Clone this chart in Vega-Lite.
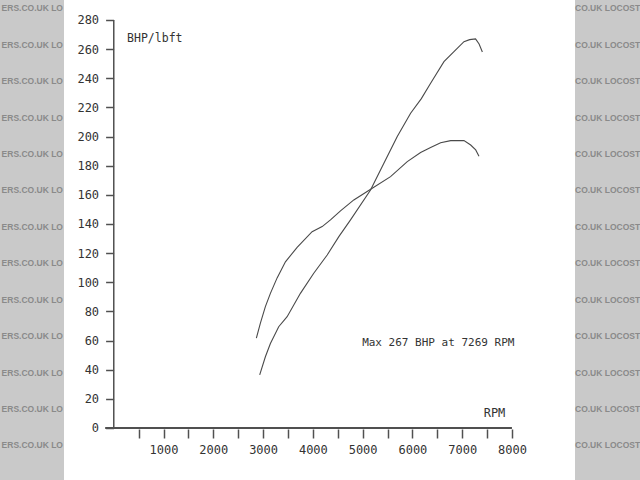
{
  "$schema": "https://vega.github.io/schema/vega-lite/v6.json",
  "width": 511,
  "height": 480,
  "autosize": {"type": "none"},
  "padding": {"left": 64, "right": 65, "top": 0, "bottom": 0},
  "background": "#c9c9c9",
  "config": {
    "view": {"fill": "#ffffff", "stroke": null},
    "font": "DejaVu Sans Mono",
    "axis": {"labelFont": "DejaVu Sans Mono", "titleFont": "DejaVu Sans Mono"}
  },
  "datasets": {
    "dyno": [
      {"series": "lbft", "rpm": 2865, "value": 61.6},
      {"series": "lbft", "rpm": 2946, "value": 72},
      {"series": "lbft", "rpm": 3046, "value": 83.3},
      {"series": "lbft", "rpm": 3147, "value": 92.4},
      {"series": "lbft", "rpm": 3282, "value": 103},
      {"series": "lbft", "rpm": 3449, "value": 114},
      {"series": "lbft", "rpm": 3684, "value": 124},
      {"series": "lbft", "rpm": 3985, "value": 134.7},
      {"series": "lbft", "rpm": 4187, "value": 138.2},
      {"series": "lbft", "rpm": 4354, "value": 142.8},
      {"series": "lbft", "rpm": 4555, "value": 149},
      {"series": "lbft", "rpm": 4823, "value": 156.5},
      {"series": "lbft", "rpm": 5193, "value": 164.5},
      {"series": "lbft", "rpm": 5561, "value": 172.5},
      {"series": "lbft", "rpm": 5897, "value": 182.8},
      {"series": "lbft", "rpm": 6165, "value": 189},
      {"series": "lbft", "rpm": 6366, "value": 192.4},
      {"series": "lbft", "rpm": 6567, "value": 195.8},
      {"series": "lbft", "rpm": 6769, "value": 197.2},
      {"series": "lbft", "rpm": 7036, "value": 197.2},
      {"series": "lbft", "rpm": 7171, "value": 194.2},
      {"series": "lbft", "rpm": 7272, "value": 190.8},
      {"series": "lbft", "rpm": 7338, "value": 186.5},
      {"series": "BHP", "rpm": 2932, "value": 36.4},
      {"series": "BHP", "rpm": 3046, "value": 48.9},
      {"series": "BHP", "rpm": 3147, "value": 58},
      {"series": "BHP", "rpm": 3314, "value": 69.5},
      {"series": "BHP", "rpm": 3483, "value": 76.4},
      {"series": "BHP", "rpm": 3750, "value": 92.4},
      {"series": "BHP", "rpm": 4018, "value": 106.2},
      {"series": "BHP", "rpm": 4288, "value": 118.7},
      {"series": "BHP", "rpm": 4522, "value": 131.3},
      {"series": "BHP", "rpm": 4757, "value": 142.8},
      {"series": "BHP", "rpm": 5159, "value": 163.3},
      {"series": "BHP", "rpm": 5427, "value": 181.7},
      {"series": "BHP", "rpm": 5696, "value": 200},
      {"series": "BHP", "rpm": 5964, "value": 216},
      {"series": "BHP", "rpm": 6180, "value": 226},
      {"series": "BHP", "rpm": 6366, "value": 236.6},
      {"series": "BHP", "rpm": 6634, "value": 251.4},
      {"series": "BHP", "rpm": 6835, "value": 258.3},
      {"series": "BHP", "rpm": 7036, "value": 265.1},
      {"series": "BHP", "rpm": 7150, "value": 266.5},
      {"series": "BHP", "rpm": 7269, "value": 267},
      {"series": "BHP", "rpm": 7340, "value": 263.5},
      {"series": "BHP", "rpm": 7406, "value": 258}
    ],
    "wm": [
      {"v": 288}, {"v": 263}, {"v": 238}, {"v": 213}, {"v": 188}, {"v": 163}, {"v": 138},
      {"v": 113}, {"v": 88}, {"v": 63}, {"v": 38}, {"v": 13}, {"v": -12}
    ],
    "one": [{}]
  },
  "layer": [
    {
      "data": {"name": "dyno"},
      "mark": {"type": "line", "strokeWidth": 1.1, "color": "#4a4a4a"},
      "encoding": {
        "x": {
          "field": "rpm", "type": "quantitative",
          "scale": {"domain": [-1000, 9267], "nice": false, "zero": false},
          "axis": {
            "values": [500, 1000, 1500, 2000, 2500, 3000, 3500, 4000, 4500, 5000, 5500, 6000, 6500, 7000, 7500, 8000],
            "tickCount": 40,
            "format": "d",
            "labelExpr": "datum.value % 1000 === 0 ? datum.label : ''",
            "offset": -51, "domain": false, "grid": false,
            "tickSize": 9, "tickWidth": 1.5, "tickColor": "#505050",
            "labelPadding": 6, "labelFontSize": 12, "labelColor": "#333333", "labelDx": 2,
            "labelOverlap": false,
            "title": "RPM", "titleX": 430, "titleY": -17, "titleAlign": "center", "titleBaseline": "middle",
            "titleFontSize": 12, "titleFontWeight": "normal", "titleColor": "#333333"
          }
        },
        "y": {
          "field": "value", "type": "quantitative",
          "scale": {"domain": [-35.7, 293.7], "nice": false, "zero": false},
          "axis": {
            "values": [0, 20, 40, 60, 80, 100, 120, 140, 160, 180, 200, 220, 240, 260, 280],
            "tickCount": 40,
            "labelOverlap": false,
            "offset": -49.6, "domain": false, "grid": false,
            "tickSize": 8, "tickWidth": 1.5, "tickColor": "#505050",
            "labelPadding": 7, "labelFontSize": 12, "labelColor": "#333333",
            "title": "BHP/lbft", "titleAngle": 0, "titleX": 13, "titleY": 38, "titleAlign": "left", "titleBaseline": "middle",
            "titleFontSize": 11.5, "titleFontWeight": "normal", "titleColor": "#333333"
          }
        },
        "detail": {"field": "series", "type": "nominal"}
      }
    },
    {
      "data": {"name": "wm"},
      "mark": {"type": "text", "align": "right", "baseline": "middle", "font": "Liberation Sans", "fontWeight": "bold", "fontSize": 8.5, "color": "#8a8a8a", "dx": -1},
      "encoding": {
        "x": {"datum": -1000, "type": "quantitative"},
        "y": {"field": "v", "type": "quantitative"},
        "text": {"value": "ERS.CO.UK LO"}
      }
    },
    {
      "data": {"name": "wm"},
      "mark": {"type": "text", "align": "left", "baseline": "middle", "font": "Liberation Sans", "fontWeight": "bold", "fontSize": 8.5, "color": "#8a8a8a", "dx": 0},
      "encoding": {
        "x": {"datum": 9267, "type": "quantitative"},
        "y": {"field": "v", "type": "quantitative"},
        "text": {"value": "CO.UK LOCOST"}
      }
    },
    {
      "data": {"name": "one"},
      "mark": {"type": "rule", "strokeWidth": 1.5, "color": "#505050"},
      "encoding": {
        "x": {"datum": 0, "type": "quantitative"},
        "y": {"datum": 0, "type": "quantitative"},
        "y2": {"datum": 280}
      }
    },
    {
      "data": {"name": "one"},
      "mark": {"type": "rule", "strokeWidth": 1.8, "color": "#505050"},
      "encoding": {
        "x": {"datum": -173, "type": "quantitative"},
        "x2": {"datum": 8000},
        "y": {"datum": 0, "type": "quantitative"}
      }
    },
    {
      "data": {"name": "one"},
      "mark": {"type": "text", "align": "left", "baseline": "middle", "fontSize": 11, "color": "#333333"},
      "encoding": {
        "x": {"datum": 4990, "type": "quantitative"},
        "y": {"datum": 58, "type": "quantitative"},
        "text": {"value": "Max 267 BHP at 7269 RPM"}
      }
    }
  ]
}
